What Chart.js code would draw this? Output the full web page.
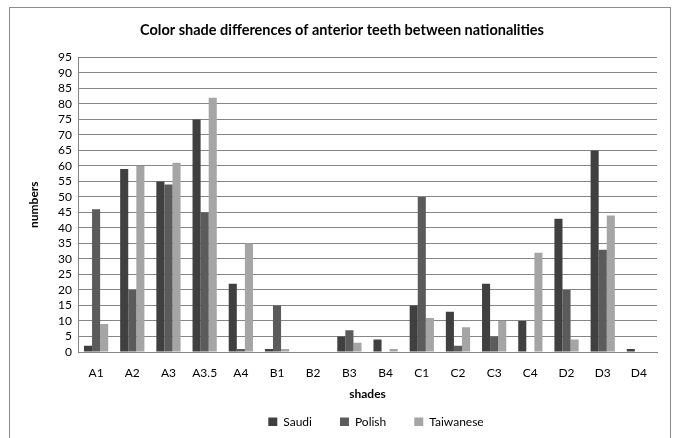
<!DOCTYPE html>
<html><head><meta charset="utf-8">
<script src="https://cdn.jsdelivr.net/npm/chart.js@4"></script>
<style>
html,body{margin:0;padding:0;background:#fff;}
#wrap{position:relative;width:677px;height:438px;}
#frame{position:absolute;left:9px;top:7px;width:662px;height:440px;border:1px solid #8c8c8c;box-sizing:border-box;}
canvas{position:absolute;left:0;top:0;}
</style></head><body>
<div id="wrap"><div id="frame"></div><canvas id="c" width="677" height="438"></canvas></div>
<script>
const categories = ["A1","A2","A3","A3.5","A4","B1","B2","B3","B4","C1","C2","C3","C4","D2","D3","D4"];
const saudi     = [2,59,55,75,22,1,0,5,4,15,13,22,10,43,65,1];
const polish    = [46,20,54,45,1,15,0,7,0,50,2,5,0,20,33,0];
const taiwanese = [9,60,61,82,35,1,0,3,1,11,8,10,32,4,44,0];
const seriesNames = ["Saudi","Polish","Taiwanese"];
const FONT = "Lato, 'Liberation Sans', sans-serif";
Chart.defaults.font.family = FONT;
Chart.defaults.color = "#000";
const legendPatch = {
  id: 'legendPatch',
  afterInit(chart) {
    const lg = chart.legend;
    if (!lg) return;
    const of = lg.fit.bind(lg);
    lg.fit = function(){ of(); this.height = 38; };
    const od = lg.draw.bind(lg);
    lg.draw = function(){ const c = this.ctx; c.save(); c.translate(34, -12); od(); c.restore(); };
  }
};
new Chart(document.getElementById('c'), {
  type: 'bar',
  data: {
    labels: categories,
    datasets: [
      {label: seriesNames[0], data: saudi, backgroundColor: '#404040', borderWidth:0},
      {label: seriesNames[1], data: polish, backgroundColor: '#5b5b5b', borderWidth:0},
      {label: seriesNames[2], data: taiwanese, backgroundColor: '#a5a5a5', borderWidth:0}
    ]
  },
  plugins: [legendPatch],
  options: {
    responsive: false,
    animation: false,
    devicePixelRatio: 1,
    layout: {padding: {left: 27, right: 20, top: 22, bottom: 0}},
    datasets: {bar: {categoryPercentage: 0.67, barPercentage: 1.0}},
    plugins: {
      title: {display: true, text: 'Color shade differences of anterior teeth between nationalities',
        font: {size: 14.5, weight: 'bold'}, color:'#000', padding: {top: 0, bottom: 18}},
      legend: {position: 'bottom', labels: {boxWidth: 9, boxHeight: 9, font: {size: 12}, padding: 28, color:'#000'}},
      tooltip: {enabled: false}
    },
    scales: {
      x: {
        grid: {display: false},
        border: {color: '#868686'},
        ticks: {font: {size: 12}, color:'#000', maxRotation: 0, padding: 6},
        title: {display: true, text: 'shades', font: {size: 12, weight: 'bold'}, color:'#000', padding: {top: 0, bottom: -1}},
        afterFit: (s) => { s.height = 48; }
      },
      y: {
        min: 0, max: 95,
        ticks: {stepSize: 5, autoSkip: false, font: {size: 12}, color:'#000', padding: 6},
        grid: {color: '#868686', tickLength: 0},
        border: {color: '#868686'},
        title: {display: true, text: 'numbers', font: {size: 12, weight: 'bold'}, color:'#000', padding: {top: 0, bottom: 4}},
        afterFit: (s) => { s.width = 51; }
      }
    }
  }
});
</script>
</body></html>
